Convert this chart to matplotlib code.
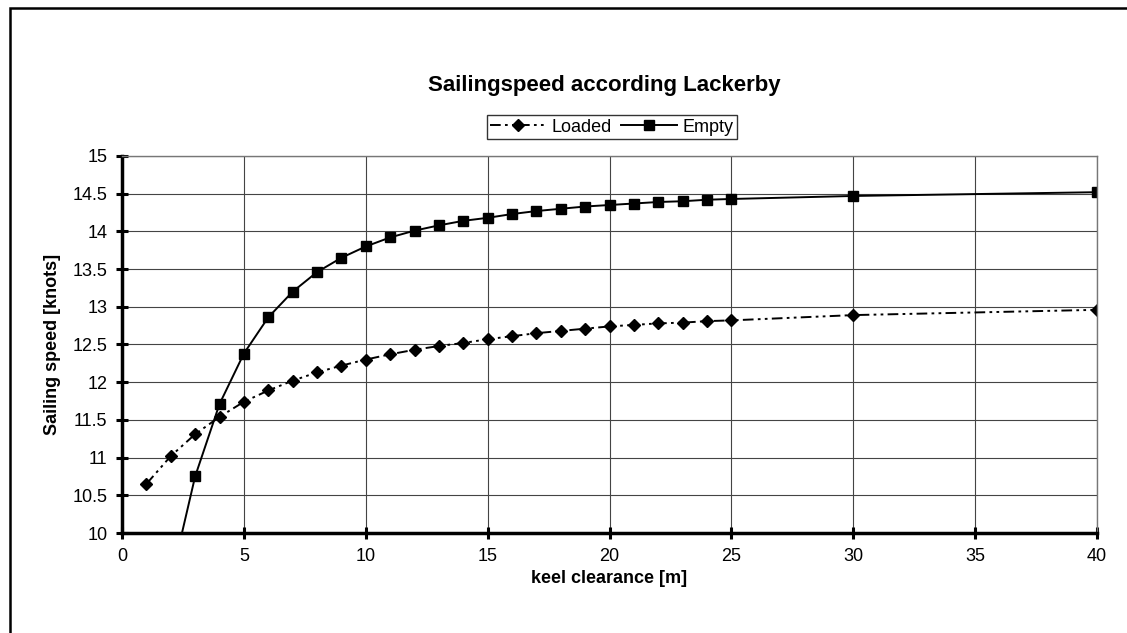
import matplotlib
matplotlib.use("Agg")
import matplotlib.pyplot as plt
from matplotlib.patches import Rectangle

plt.rcParams['font.family'] = ['Liberation Sans', 'DejaVu Sans']

# keel clearance [m]
loaded_x = [1, 2, 3, 4, 5, 6, 7, 8, 9, 10, 11, 12, 13, 14, 15, 16, 17, 18, 19, 20,
            21, 22, 23, 24, 25, 30, 40]
loaded_speed = [10.65, 11.02, 11.31, 11.54, 11.74, 11.89, 12.02, 12.13, 12.22, 12.30,
                12.37, 12.43, 12.48, 12.52, 12.57, 12.61, 12.65, 12.68, 12.71, 12.74,
                12.76, 12.78, 12.79, 12.81, 12.82, 12.89, 12.96]

empty_x = [2, 3, 4, 5, 6, 7, 8, 9, 10, 11, 12, 13, 14, 15, 16, 17, 18, 19, 20,
           21, 22, 23, 24, 25, 30, 40]
empty_speed = [9.36, 10.75, 11.71, 12.38, 12.86, 13.20, 13.46, 13.65, 13.80, 13.92,
               14.01, 14.08, 14.14, 14.18, 14.23, 14.27, 14.30, 14.33, 14.35,
               14.37, 14.39, 14.40, 14.42, 14.43, 14.47, 14.52]

x_ticks = list(range(0, 41, 5))
y_ticks = [10, 10.5, 11, 11.5, 12, 12.5, 13, 13.5, 14, 14.5, 15]
y_labels = ['10', '10.5', '11', '11.5', '12', '12.5', '13', '13.5', '14', '14.5', '15']

W, H = 1127, 633
fig = plt.figure(figsize=(W / 100, H / 100), dpi=100)

# plot area in pixels: left 122, right 1097, top 156, bottom 533
ax = fig.add_axes([122 / W, 1 - 533 / H, (1097 - 122) / W, (533 - 156) / H])

ax.plot(loaded_x, loaded_speed, color='black', lw=1.4,
        dashes=(5.5, 2.2, 1.4, 2.2, 1.4, 2.2),
        marker='D', markersize=6.5, markerfacecolor='black', markeredgecolor='black',
        label='Loaded')
ax.plot(empty_x, empty_speed, color='black', lw=1.4, linestyle='-',
        marker='s', markersize=7.5, markerfacecolor='black', markeredgecolor='black',
        label='Empty')

ax.set_xlim(0, 40)
ax.set_ylim(10, 15)
ax.set_xticks(x_ticks)
ax.set_yticks(y_ticks)
ax.set_yticklabels(y_labels)
ax.grid(True, color='#444444', lw=0.8)
ax.set_axisbelow(True)

for s in ['top', 'right']:
    ax.spines[s].set_color('#777777')
    ax.spines[s].set_linewidth(1.0)
for s in ['left', 'bottom']:
    ax.spines[s].set_linewidth(2.5)
ax.tick_params(direction='inout', length=9, width=2.2, labelsize=13, pad=6)

ax.set_xlabel('keel clearance [m]', fontsize=13, fontweight='bold', labelpad=4)
ax.set_ylabel('Sailing speed [knots]', fontsize=13, fontweight='bold', labelpad=8)

fig.text(604 / W, 1 - 86 / H, 'Sailingspeed according Lackerby',
         ha='center', va='center', fontsize=16, fontweight='bold')

leg = ax.legend(loc='center', bbox_to_anchor=(612 / W, 1 - 127 / H),
                bbox_transform=fig.transFigure, ncol=2, frameon=True,
                fancybox=False, edgecolor='black', fontsize=13,
                handlelength=3.1, columnspacing=0.5, handletextpad=0.3,
                borderpad=0.2, borderaxespad=0, markerscale=1.0)
leg.get_frame().set_linewidth(1.0)

# outer chart border (right and bottom edges are outside the image)
fig.patches.append(Rectangle((10 / W, -0.05), 1.2, 1 - 8 / H + 0.05,
                             transform=fig.transFigure, fill=False,
                             edgecolor='black', lw=1.8))

fig.savefig('out.png', dpi=100)
